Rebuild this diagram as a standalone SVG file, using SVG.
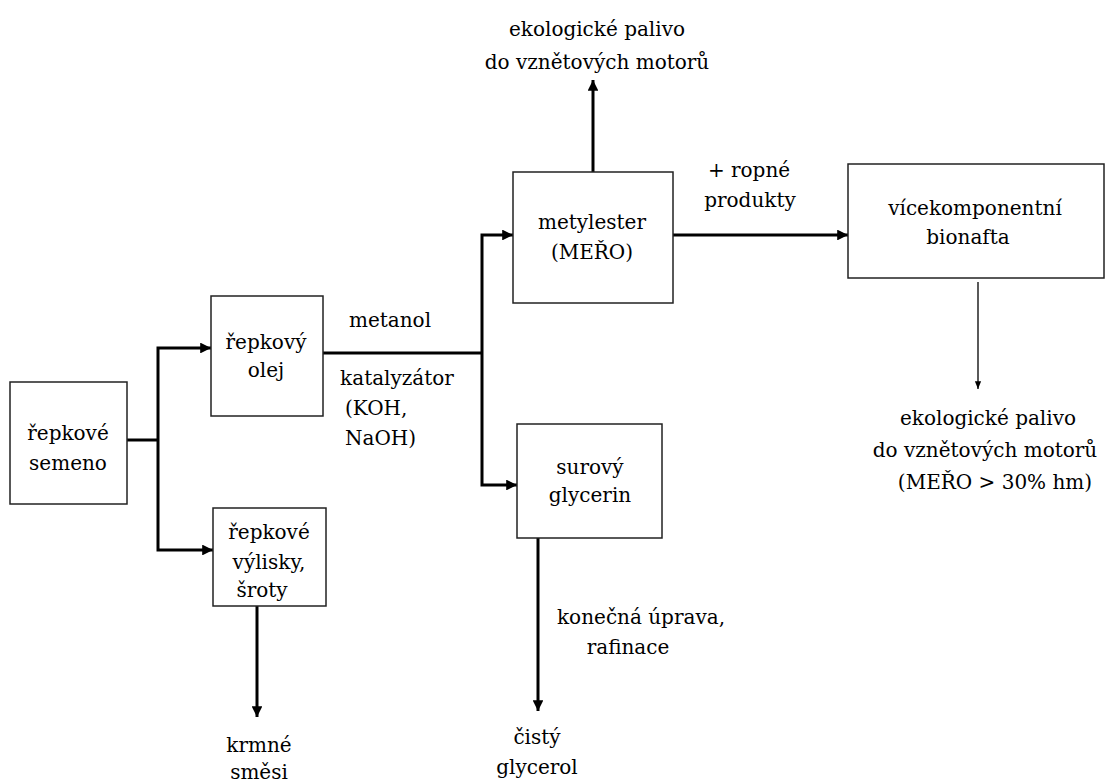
<svg xmlns="http://www.w3.org/2000/svg" width="1109" height="784" viewBox="0 0 1109 784">
<style>
  .box{fill:#fff;stroke:#222;stroke-width:1.5}
  .t{font-family:"DejaVu Serif","Liberation Serif",serif;font-size:20px;fill:#000;text-anchor:middle;dominant-baseline:central}
  .l{text-anchor:start}
  .c{fill:none;stroke:#000;stroke-width:3}
  .thin{fill:none;stroke:#000;stroke-width:1.3}
</style>
<defs>
  <marker id="ah" viewBox="0 0 10 10" refX="10" refY="5" markerWidth="3.6" markerHeight="3.6" orient="auto" markerUnits="strokeWidth">
    <path d="M0,0 L10,5 L0,10 z" fill="#000"/>
  </marker>
  <marker id="ahs" viewBox="0 0 10 10" refX="10" refY="5" markerWidth="6" markerHeight="6" orient="auto" markerUnits="strokeWidth">
    <path d="M0,1 L10,5 L0,9 z" fill="#000"/>
  </marker>
</defs>
<rect width="1109" height="784" fill="#fff"/>
<g id="connectors">
  <polyline class="c" points="127,440 158,440"/>
  <polyline class="c" points="158,440 158,348 211,348" marker-end="url(#ah)"/>
  <polyline class="c" points="158,440 158,550 213,550" marker-end="url(#ah)"/>
  <polyline class="c" points="323,353 482,353"/>
  <polyline class="c" points="482,353 482,235 513,235" marker-end="url(#ah)"/>
  <polyline class="c" points="482,353 482,485 517,485" marker-end="url(#ah)"/>
  <line class="c" x1="593" y1="172" x2="593" y2="80" marker-end="url(#ah)"/>
  <line class="c" x1="673" y1="235" x2="848" y2="235" marker-end="url(#ah)"/>
  <line class="thin" x1="978" y1="282" x2="978" y2="389" marker-end="url(#ahs)"/>
  <line class="c" x1="257" y1="606" x2="257" y2="717" marker-end="url(#ah)"/>
  <line class="c" x1="538" y1="538" x2="538" y2="711" marker-end="url(#ah)"/>
  <text class="t" x="390" y="320">metanol</text>
  <text class="t" x="397" y="378">katalyzátor</text>
  <text class="t l" x="345" y="408">(KOH,</text>
  <text class="t l" x="345" y="438">NaOH)</text>
  <text class="t" x="749" y="170">+ ropné</text>
  <text class="t" x="750" y="200">produkty</text>
  <text class="t l" x="557" y="617">konečná úprava,</text>
  <text class="t" x="628" y="647">rafinace</text>
</g>
<g id="semeno">
  <rect class="box" x="10" y="382" width="117" height="122"/>
  <text class="t" x="68" y="433">řepkové</text>
  <text class="t" x="68" y="463">semeno</text>
</g>
<g id="olej">
  <rect class="box" x="211" y="296" width="112" height="120"/>
  <text class="t" x="266" y="342">řepkový</text>
  <text class="t" x="266" y="370">olej</text>
</g>
<g id="vylisky">
  <rect class="box" x="213" y="508" width="113" height="98"/>
  <text class="t" x="269" y="532">řepkové</text>
  <text class="t" x="269" y="562">výlisky,</text>
  <text class="t" x="262" y="590">šroty</text>
</g>
<g id="metylester">
  <rect class="box" x="513" y="172" width="160" height="131"/>
  <text class="t" x="592" y="222">metylester</text>
  <text class="t" x="592" y="252">(MEŘO)</text>
</g>
<g id="glycerin">
  <rect class="box" x="517" y="424" width="145" height="114"/>
  <text class="t" x="590" y="467">surový</text>
  <text class="t" x="590" y="495">glycerin</text>
</g>
<g id="bionafta">
  <rect class="box" x="848" y="164" width="256" height="114"/>
  <text class="t" x="975" y="208">vícekomponentní</text>
  <text class="t" x="968" y="237">bionafta</text>
</g>
<g id="palivo1">
  <text class="t" x="597" y="29">ekologické palivo</text>
  <text class="t" x="597" y="62">do vznětových motorů</text>
</g>
<g id="palivo2">
  <text class="t" x="988" y="418">ekologické palivo</text>
  <text class="t" x="985" y="450">do vznětových  motorů</text>
  <text class="t" x="995" y="482">(MEŘO &gt; 30% hm)</text>
</g>
<g id="krmne">
  <text class="t" x="259" y="745">krmné</text>
  <text class="t" x="259" y="772">směsi</text>
</g>
<g id="glycerol">
  <text class="t" x="537" y="737">čistý</text>
  <text class="t" x="537" y="767">glycerol</text>
</g>
</svg>
